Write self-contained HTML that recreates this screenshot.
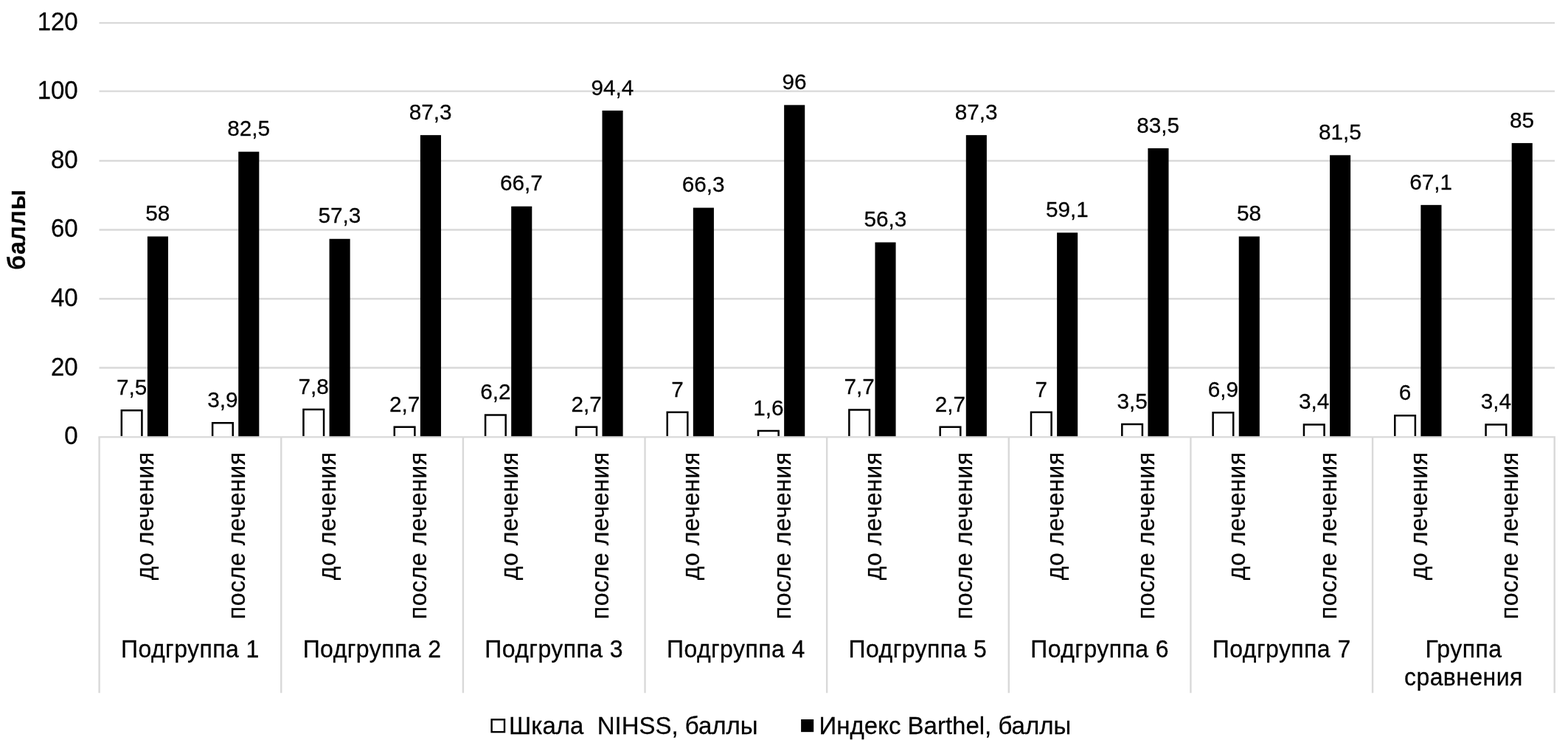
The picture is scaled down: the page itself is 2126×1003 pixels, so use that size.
<!DOCTYPE html>
<html lang="ru"><head><meta charset="utf-8"><title>Шкала NIHSS и индекс Barthel</title>
<style>html,body{margin:0;padding:0;background:#fff}body{width:2126px;height:1003px;overflow:hidden}svg{display:block}text{font-family:"Liberation Sans",Arial,sans-serif;fill:#000;stroke:#000;stroke-width:.25px}</style></head><body>
<svg width="2126" height="1003" viewBox="0 0 2126 1003">
<rect width="2126" height="1003" fill="#fff"/>
<g stroke="#d9d9d9" stroke-width="2.4">
<line x1="134.5" y1="498.55" x2="2108.0" y2="498.55"/>
<line x1="134.5" y1="404.95" x2="2108.0" y2="404.95"/>
<line x1="134.5" y1="311.50" x2="2108.0" y2="311.50"/>
<line x1="134.5" y1="218.00" x2="2108.0" y2="218.00"/>
<line x1="134.5" y1="123.60" x2="2108.0" y2="123.60"/>
<line x1="134.5" y1="31.15" x2="2108.0" y2="31.15"/>
</g>
<path d="M164.81 591.20V556.34H192.41V591.20" fill="#fff" stroke="#000" stroke-width="2.5"/>
<rect x="199.91" y="320.50" width="28.10" height="271.90" fill="#000"/>
<path d="M288.13 591.20V573.22H315.73V591.20" fill="#fff" stroke="#000" stroke-width="2.5"/>
<rect x="323.23" y="205.64" width="28.10" height="386.76" fill="#000"/>
<path d="M411.45 591.20V554.93H439.05V591.20" fill="#fff" stroke="#000" stroke-width="2.5"/>
<rect x="446.55" y="323.78" width="28.10" height="268.62" fill="#000"/>
<path d="M534.77 591.20V578.84H562.37V591.20" fill="#fff" stroke="#000" stroke-width="2.5"/>
<rect x="569.87" y="183.14" width="28.10" height="409.26" fill="#000"/>
<path d="M658.08 591.20V562.43H685.68V591.20" fill="#fff" stroke="#000" stroke-width="2.5"/>
<rect x="693.18" y="279.71" width="28.10" height="312.69" fill="#000"/>
<path d="M781.40 591.20V578.84H809.00V591.20" fill="#fff" stroke="#000" stroke-width="2.5"/>
<rect x="816.50" y="149.85" width="28.10" height="442.55" fill="#000"/>
<path d="M904.72 591.20V558.68H932.32V591.20" fill="#fff" stroke="#000" stroke-width="2.5"/>
<rect x="939.82" y="281.59" width="28.10" height="310.81" fill="#000"/>
<path d="M1028.04 591.20V584.00H1055.64V591.20" fill="#fff" stroke="#000" stroke-width="2.5"/>
<rect x="1063.14" y="142.35" width="28.10" height="450.05" fill="#000"/>
<path d="M1151.36 591.20V555.40H1178.96V591.20" fill="#fff" stroke="#000" stroke-width="2.5"/>
<rect x="1186.46" y="328.47" width="28.10" height="263.93" fill="#000"/>
<path d="M1274.68 591.20V578.84H1302.28V591.20" fill="#fff" stroke="#000" stroke-width="2.5"/>
<rect x="1309.78" y="183.14" width="28.10" height="409.26" fill="#000"/>
<path d="M1398.00 591.20V558.68H1425.60V591.20" fill="#fff" stroke="#000" stroke-width="2.5"/>
<rect x="1433.10" y="315.34" width="28.10" height="277.06" fill="#000"/>
<path d="M1521.32 591.20V575.09H1548.92V591.20" fill="#fff" stroke="#000" stroke-width="2.5"/>
<rect x="1556.42" y="200.95" width="28.10" height="391.45" fill="#000"/>
<path d="M1644.63 591.20V559.15H1672.23V591.20" fill="#fff" stroke="#000" stroke-width="2.5"/>
<rect x="1679.73" y="320.50" width="28.10" height="271.90" fill="#000"/>
<path d="M1767.95 591.20V575.56H1795.55V591.20" fill="#fff" stroke="#000" stroke-width="2.5"/>
<rect x="1803.05" y="210.33" width="28.10" height="382.07" fill="#000"/>
<path d="M1891.27 591.20V563.37H1918.87V591.20" fill="#fff" stroke="#000" stroke-width="2.5"/>
<rect x="1926.37" y="277.84" width="28.10" height="314.56" fill="#000"/>
<path d="M2014.59 591.20V575.56H2042.19V591.20" fill="#fff" stroke="#000" stroke-width="2.5"/>
<rect x="2049.69" y="193.92" width="28.10" height="398.48" fill="#000"/>
<g stroke="#d9d9d9" stroke-width="2.4">
<line x1="133.4" y1="592.40" x2="2108.9" y2="592.40"/>
<line x1="134.60" y1="592.40" x2="134.60" y2="939.20"/>
<line x1="381.24" y1="592.40" x2="381.24" y2="939.20"/>
<line x1="627.88" y1="592.40" x2="627.88" y2="939.20"/>
<line x1="874.51" y1="592.40" x2="874.51" y2="939.20"/>
<line x1="1121.15" y1="592.40" x2="1121.15" y2="939.20"/>
<line x1="1367.79" y1="592.40" x2="1367.79" y2="939.20"/>
<line x1="1614.42" y1="592.40" x2="1614.42" y2="939.20"/>
<line x1="1861.06" y1="592.40" x2="1861.06" y2="939.20"/>
<line x1="2107.70" y1="592.40" x2="2107.70" y2="939.20"/>
</g>
<text transform="translate(178.61,535.24) scale(1,1.020)" font-size="29.7" text-anchor="middle">7,5</text>
<text transform="translate(213.71,299.20) scale(1,1.020)" font-size="29.7" text-anchor="middle">58</text>
<text transform="translate(301.93,552.12) scale(1,1.020)" font-size="29.7" text-anchor="middle">3,9</text>
<text transform="translate(337.03,184.34) scale(1,1.020)" font-size="29.7" text-anchor="middle">82,5</text>
<text transform="translate(425.25,533.83) scale(1,1.020)" font-size="29.7" text-anchor="middle">7,8</text>
<text transform="translate(460.35,302.48) scale(1,1.020)" font-size="29.7" text-anchor="middle">57,3</text>
<text transform="translate(548.57,557.74) scale(1,1.020)" font-size="29.7" text-anchor="middle">2,7</text>
<text transform="translate(583.67,161.84) scale(1,1.020)" font-size="29.7" text-anchor="middle">87,3</text>
<text transform="translate(671.88,541.33) scale(1,1.020)" font-size="29.7" text-anchor="middle">6,2</text>
<text transform="translate(706.98,258.41) scale(1,1.020)" font-size="29.7" text-anchor="middle">66,7</text>
<text transform="translate(795.20,557.74) scale(1,1.020)" font-size="29.7" text-anchor="middle">2,7</text>
<text transform="translate(830.30,128.55) scale(1,1.020)" font-size="29.7" text-anchor="middle">94,4</text>
<text transform="translate(918.52,537.58) scale(1,1.020)" font-size="29.7" text-anchor="middle">7</text>
<text transform="translate(953.62,260.29) scale(1,1.020)" font-size="29.7" text-anchor="middle">66,3</text>
<text transform="translate(1041.84,562.90) scale(1,1.020)" font-size="29.7" text-anchor="middle">1,6</text>
<text transform="translate(1076.94,121.05) scale(1,1.020)" font-size="29.7" text-anchor="middle">96</text>
<text transform="translate(1165.16,534.30) scale(1,1.020)" font-size="29.7" text-anchor="middle">7,7</text>
<text transform="translate(1200.26,307.17) scale(1,1.020)" font-size="29.7" text-anchor="middle">56,3</text>
<text transform="translate(1288.48,557.74) scale(1,1.020)" font-size="29.7" text-anchor="middle">2,7</text>
<text transform="translate(1323.58,161.84) scale(1,1.020)" font-size="29.7" text-anchor="middle">87,3</text>
<text transform="translate(1411.80,537.58) scale(1,1.020)" font-size="29.7" text-anchor="middle">7</text>
<text transform="translate(1446.90,294.04) scale(1,1.020)" font-size="29.7" text-anchor="middle">59,1</text>
<text transform="translate(1535.12,553.99) scale(1,1.020)" font-size="29.7" text-anchor="middle">3,5</text>
<text transform="translate(1570.22,179.65) scale(1,1.020)" font-size="29.7" text-anchor="middle">83,5</text>
<text transform="translate(1658.43,538.05) scale(1,1.020)" font-size="29.7" text-anchor="middle">6,9</text>
<text transform="translate(1693.53,299.20) scale(1,1.020)" font-size="29.7" text-anchor="middle">58</text>
<text transform="translate(1781.75,554.46) scale(1,1.020)" font-size="29.7" text-anchor="middle">3,4</text>
<text transform="translate(1816.85,189.03) scale(1,1.020)" font-size="29.7" text-anchor="middle">81,5</text>
<text transform="translate(1905.07,542.27) scale(1,1.020)" font-size="29.7" text-anchor="middle">6</text>
<text transform="translate(1940.17,256.54) scale(1,1.020)" font-size="29.7" text-anchor="middle">67,1</text>
<text transform="translate(2028.39,554.46) scale(1,1.020)" font-size="29.7" text-anchor="middle">3,4</text>
<text transform="translate(2063.49,172.62) scale(1,1.020)" font-size="29.7" text-anchor="middle">85</text>
<text transform="translate(105.70,602.20) scale(1,1.040)" font-size="33" text-anchor="end">0</text>
<text transform="translate(105.70,508.85) scale(1,1.040)" font-size="33" text-anchor="end">20</text>
<text transform="translate(105.70,414.95) scale(1,1.040)" font-size="33" text-anchor="end">40</text>
<text transform="translate(105.70,320.70) scale(1,1.040)" font-size="33" text-anchor="end">60</text>
<text transform="translate(105.70,228.00) scale(1,1.040)" font-size="33" text-anchor="end">80</text>
<text transform="translate(105.70,133.60) scale(1,1.040)" font-size="33" text-anchor="end">100</text>
<text transform="translate(105.70,40.75) scale(1,1.040)" font-size="33" text-anchor="end">120</text>
<text transform="translate(34.20,310.90) rotate(-90) scale(1,1.040)" font-size="32" text-anchor="middle" font-weight="bold" letter-spacing="0.8">баллы</text>
<text transform="translate(208.36,612.30) rotate(-90) scale(1,1.040)" font-size="32" text-anchor="end" letter-spacing="0.6">до лечения</text>
<text transform="translate(331.68,612.30) rotate(-90) scale(1,1.040)" font-size="32" text-anchor="end" letter-spacing="0.6">после лечения</text>
<text transform="translate(455.00,612.30) rotate(-90) scale(1,1.040)" font-size="32" text-anchor="end" letter-spacing="0.6">до лечения</text>
<text transform="translate(578.32,612.30) rotate(-90) scale(1,1.040)" font-size="32" text-anchor="end" letter-spacing="0.6">после лечения</text>
<text transform="translate(701.63,612.30) rotate(-90) scale(1,1.040)" font-size="32" text-anchor="end" letter-spacing="0.6">до лечения</text>
<text transform="translate(824.95,612.30) rotate(-90) scale(1,1.040)" font-size="32" text-anchor="end" letter-spacing="0.6">после лечения</text>
<text transform="translate(948.27,612.30) rotate(-90) scale(1,1.040)" font-size="32" text-anchor="end" letter-spacing="0.6">до лечения</text>
<text transform="translate(1071.59,612.30) rotate(-90) scale(1,1.040)" font-size="32" text-anchor="end" letter-spacing="0.6">после лечения</text>
<text transform="translate(1194.91,612.30) rotate(-90) scale(1,1.040)" font-size="32" text-anchor="end" letter-spacing="0.6">до лечения</text>
<text transform="translate(1318.23,612.30) rotate(-90) scale(1,1.040)" font-size="32" text-anchor="end" letter-spacing="0.6">после лечения</text>
<text transform="translate(1441.55,612.30) rotate(-90) scale(1,1.040)" font-size="32" text-anchor="end" letter-spacing="0.6">до лечения</text>
<text transform="translate(1564.87,612.30) rotate(-90) scale(1,1.040)" font-size="32" text-anchor="end" letter-spacing="0.6">после лечения</text>
<text transform="translate(1688.18,612.30) rotate(-90) scale(1,1.040)" font-size="32" text-anchor="end" letter-spacing="0.6">до лечения</text>
<text transform="translate(1811.50,612.30) rotate(-90) scale(1,1.040)" font-size="32" text-anchor="end" letter-spacing="0.6">после лечения</text>
<text transform="translate(1934.82,612.30) rotate(-90) scale(1,1.040)" font-size="32" text-anchor="end" letter-spacing="0.6">до лечения</text>
<text transform="translate(2058.14,612.30) rotate(-90) scale(1,1.040)" font-size="32" text-anchor="end" letter-spacing="0.6">после лечения</text>
<text transform="translate(257.92,891.20) scale(1,1.040)" font-size="32" text-anchor="middle" letter-spacing="0.44">Подгруппа 1</text>
<text transform="translate(504.56,891.20) scale(1,1.040)" font-size="32" text-anchor="middle" letter-spacing="0.44">Подгруппа 2</text>
<text transform="translate(751.19,891.20) scale(1,1.040)" font-size="32" text-anchor="middle" letter-spacing="0.44">Подгруппа 3</text>
<text transform="translate(997.83,891.20) scale(1,1.040)" font-size="32" text-anchor="middle" letter-spacing="0.44">Подгруппа 4</text>
<text transform="translate(1244.47,891.20) scale(1,1.040)" font-size="32" text-anchor="middle" letter-spacing="0.44">Подгруппа 5</text>
<text transform="translate(1491.11,891.20) scale(1,1.040)" font-size="32" text-anchor="middle" letter-spacing="0.44">Подгруппа 6</text>
<text transform="translate(1737.74,891.20) scale(1,1.040)" font-size="32" text-anchor="middle" letter-spacing="0.44">Подгруппа 7</text>
<text transform="translate(1984.38,891.20) scale(1,1.040)" font-size="32" text-anchor="middle" letter-spacing="0.44">Группа</text>
<text transform="translate(1984.38,929.10) scale(1,1.040)" font-size="32" text-anchor="middle" letter-spacing="0.44">сравнения</text>
<rect x="666.6" y="975.3" width="17.4" height="16.8" fill="#fff" stroke="#000" stroke-width="2.4"/>
<text transform="translate(690.00,995.00) scale(1,1.030)" font-size="33" xml:space="preserve" style="white-space:pre">Шкала  NIHSS, баллы</text>
<rect x="1086.1" y="975.0" width="17.1" height="17.15" fill="#000"/>
<text transform="translate(1110.60,995.00) scale(1,1.030)" font-size="33">Индекс Barthel, баллы</text>
</svg></body></html>
